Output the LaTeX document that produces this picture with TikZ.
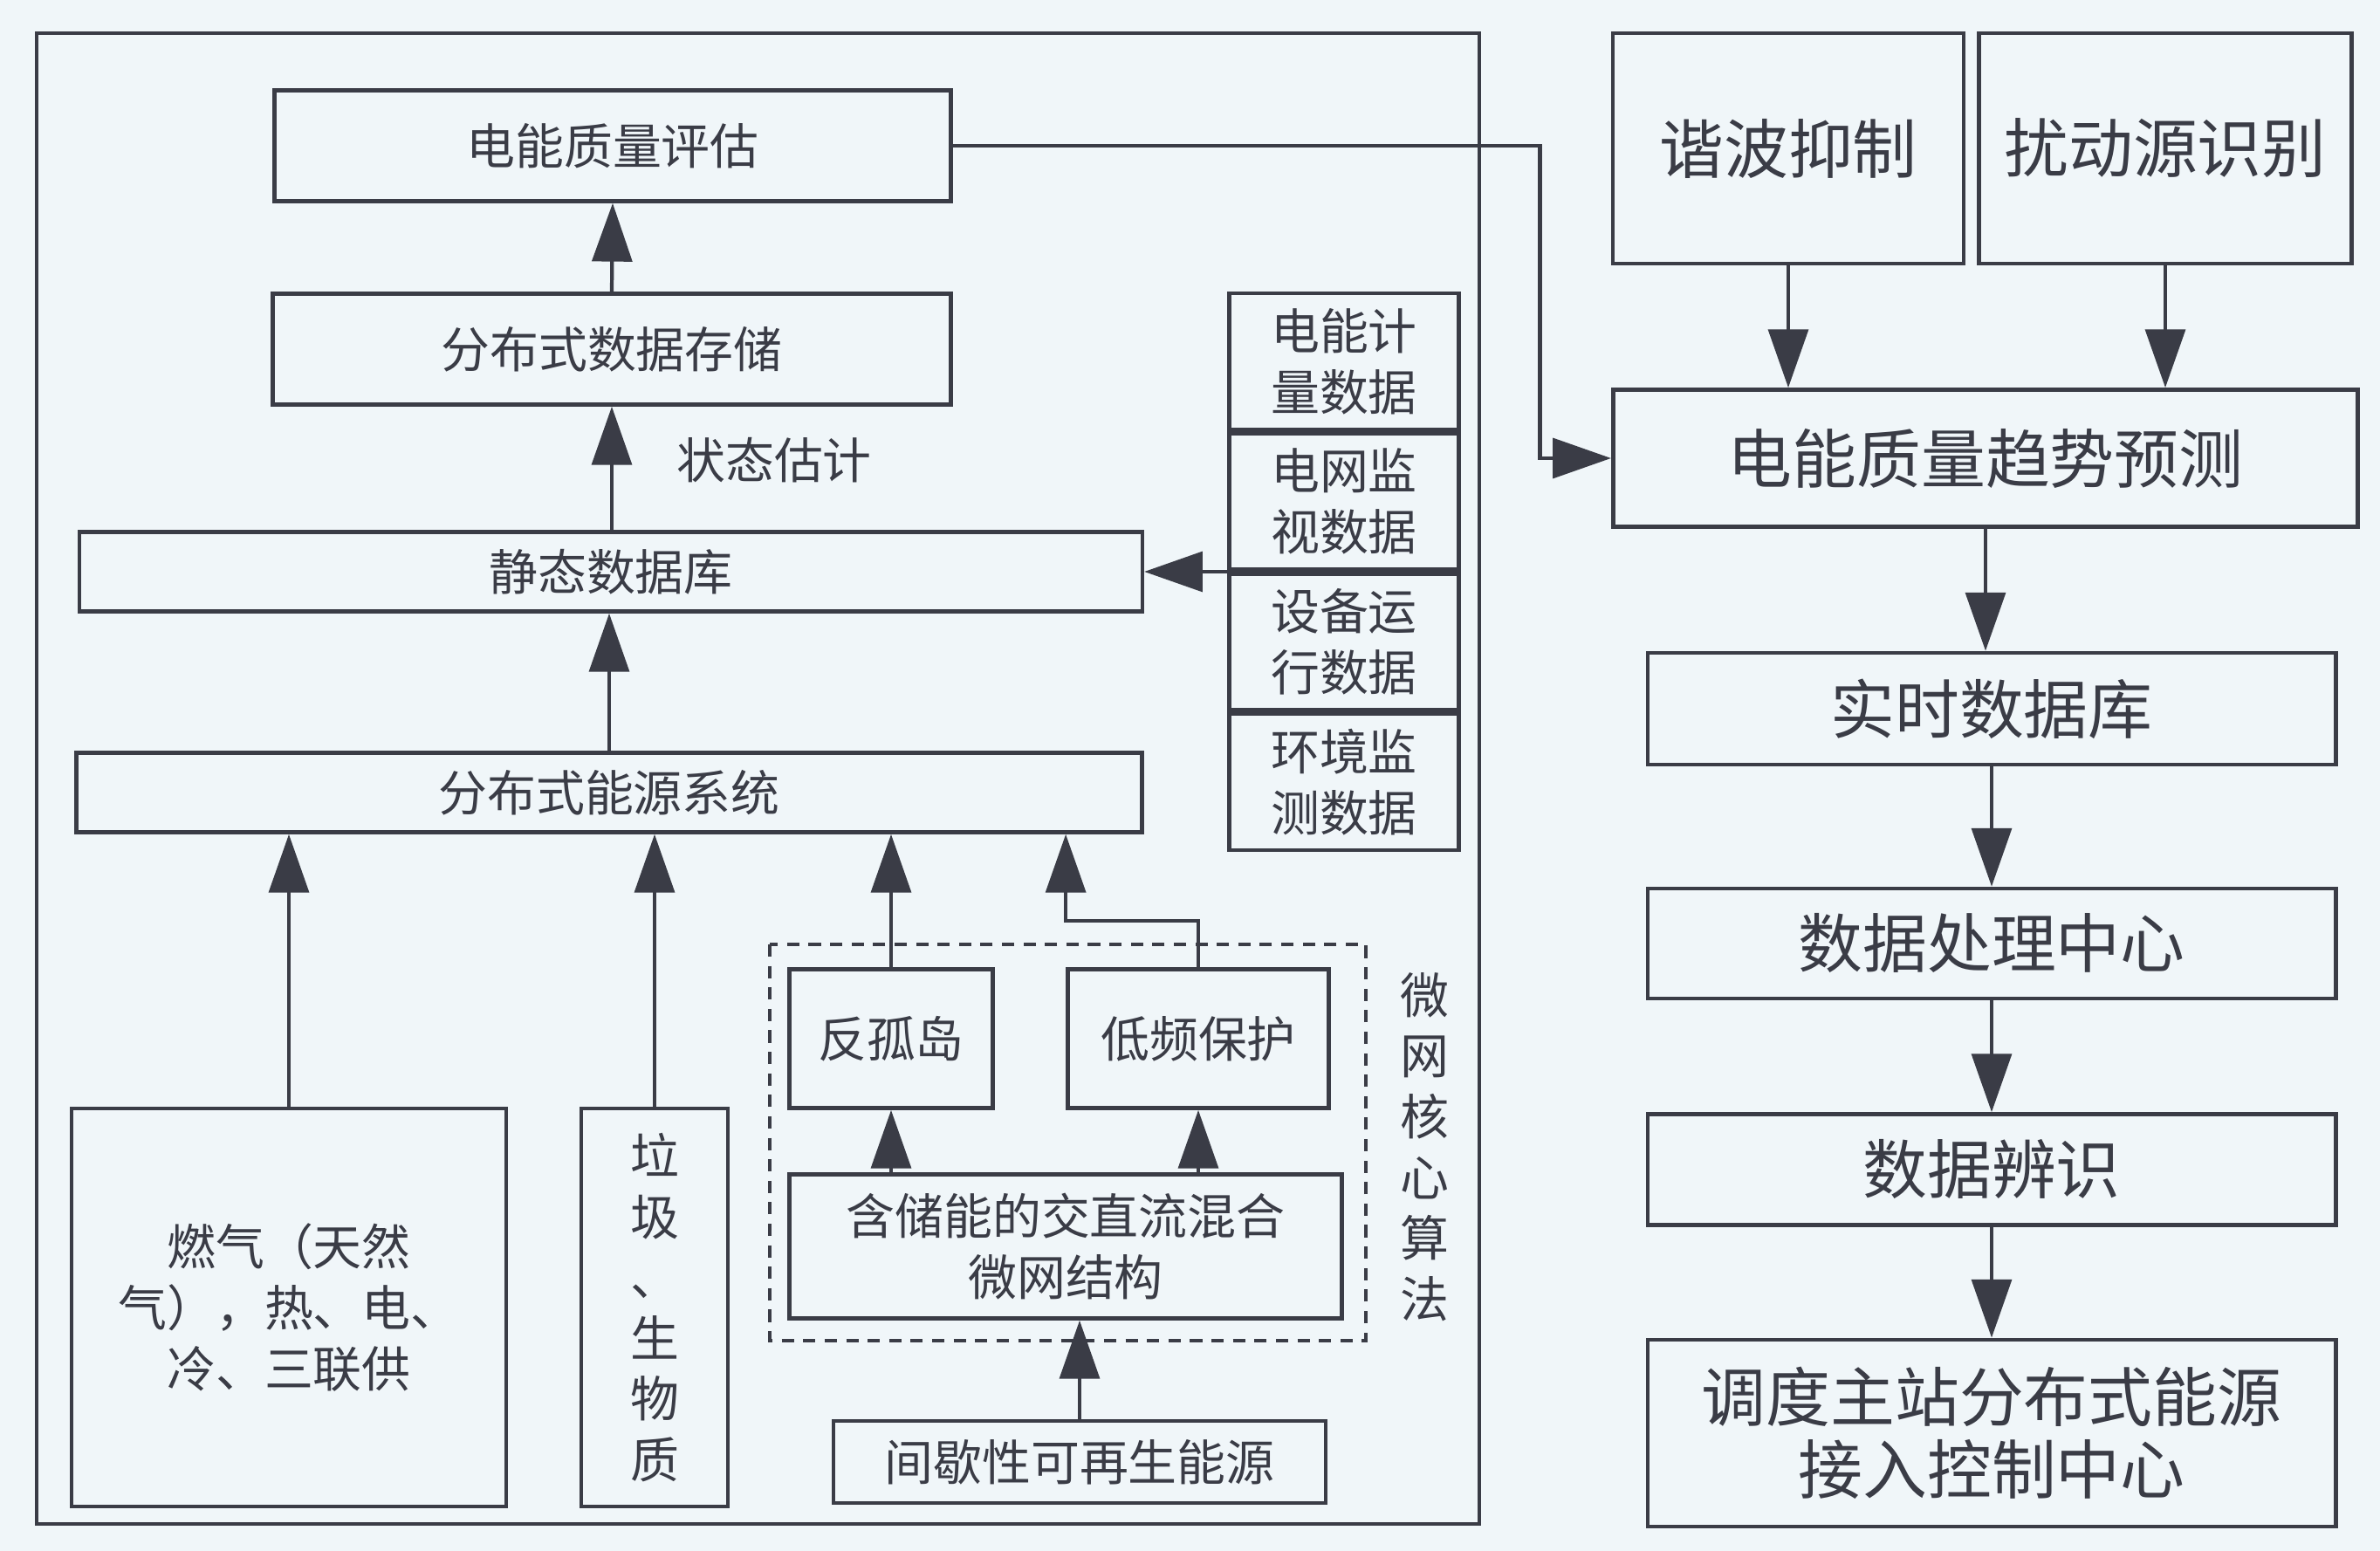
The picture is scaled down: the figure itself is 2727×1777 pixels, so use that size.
\documentclass[tikz,border=0pt]{standalone}
\usepackage{fontspec}
\setmainfont{Noto Sans CJK SC}
\usetikzlibrary{positioning,arrows.meta}

\definecolor{paper}{RGB}{240,246,249}
\definecolor{ink}{RGB}{58,60,70}
\newcommand{\smallcn}{\fontsize{15.9pt}{19.8pt}\selectfont}
\newcommand{\bigcn}{\fontsize{21pt}{23.6pt}\selectfont}

\tikzset{%
    blk/.style={draw=ink, line width=1.3pt, inner sep=0pt, align=center, text=ink},
    sbox/.style={blk, font=\smallcn},
    bbox/.style={blk, font=\bigcn},
    cell/.style={sbox, minimum width=2.63cm, minimum height=1.56cm},
    lbl/.style={text=ink, font=\smallcn, align=center},
    arr/.style={draw=ink, line width=1.2pt, -{Triangle[length=19pt,width=13pt]}},
}

\begin{document}
\begin{tikzpicture}[x=0.01cm, y=-0.01cm]
    \fill[paper] (0,0) rectangle (2727,1777);
    \useasboundingbox (0,0) rectangle (2727,1777);
    \draw[ink, line width=1.3pt] (42,38) rectangle (1695,1746);

    \node[sbox, minimum width=7.74cm, minimum height=1.27cm] (pqeval) at (702,167) {电能质量评估};
    \node[sbox, minimum width=7.76cm, minimum height=1.27cm] (store) at (701,400) {分布式数据存储};
    \node[lbl] (state) at (887,527) {状态估计};
    \node[sbox, minimum width=12.17cm, minimum height=0.91cm] (staticdb) at (700,655) {静态数据库};
    \node[sbox, minimum width=12.2cm, minimum height=0.91cm] (ders) at (698,908) {分布式能源系统};

    \node[cell] (meter) at (1540,414) {电能计\\量数据};
    \node[cell, below=0pt of meter] (grid) {电网监\\视数据};
    \node[cell, below=0pt of grid] (equip) {设备运\\行数据};
    \node[cell, below=0pt of equip] (env) {环境监\\测数据};

    \node[sbox, minimum width=4.98cm, minimum height=4.56cm] (gas) at (331,1498) {燃气（天然\\气），热、电、\\冷、三联供};
    \node[sbox, minimum width=1.68cm, minimum height=4.56cm] (bio) at (750,1498) {垃\\圾\\、\\生\\物\\质};

    \draw[ink, line width=1.2pt, dash pattern=on 4pt off 3pt] (882,1082) rectangle (1565,1536);
    \node[sbox, minimum width=2.33cm, minimum height=1.59cm] (island) at (1021,1190) {反孤岛};
    \node[sbox, minimum width=2.99cm, minimum height=1.59cm] (lowfreq) at (1373,1190) {低频保护};
    \node[sbox, minimum width=6.33cm, minimum height=1.65cm] (hybrid) at (1221,1428) {含储能的交直流混合\\微网结构};
    \node[sbox, minimum width=5.64cm, minimum height=0.94cm] (renew) at (1237,1675) {间歇性可再生能源};
    \node[lbl] (algo) at (1632,1314) {微\\网\\核\\心\\算\\法};

    \node[bbox, minimum width=4.02cm, minimum height=2.64cm] (harm) at (2049,170) {谐波抑制};
    \node[bbox, minimum width=4.27cm, minimum height=2.64cm] (dist) at (2481,170) {扰动源识别};
    \node[bbox, minimum width=8.53cm, minimum height=1.57cm] (trend) at (2275,525) {电能质量趋势预测};
    \node[bbox, minimum width=7.88cm, minimum height=1.28cm] (rtdb) at (2282,812) {实时数据库};
    \node[bbox, minimum width=7.88cm, minimum height=1.26cm] (proc) at (2282,1081) {数据处理中心};
    \node[bbox, minimum width=7.88cm, minimum height=1.27cm] (ident) at (2282,1340) {数据辨识};
    \node[bbox, minimum width=7.88cm, minimum height=2.14cm] (ctrl) at (2282,1642) {调度主站分布式能源\\接入控制中心};

    \draw[arr] (store.north) -- (pqeval.south);
    \draw[arr] (store.south |- staticdb.north) -- (store.south);
    \draw[arr] (ders.north) -- (ders.north |- staticdb.south);
    \draw[arr] (grid.south west) -- (staticdb.east |- grid.south west);
    \draw[arr] (gas.north) -- (gas.north |- ders.south);
    \draw[arr] (bio.north) -- (bio.north |- ders.south);
    \draw[arr] (island.north) -- (island.north |- ders.south);
    \draw[arr] (lowfreq.north) -- ++(0,-53) -| (lowfreq.west |- ders.south);
    \draw[arr] (island.south |- hybrid.north) -- (island.south);
    \draw[arr] (lowfreq.south |- hybrid.north) -- (lowfreq.south);
    \draw[arr] (renew.north) -- (renew.north |- hybrid.south);

    \draw[arr] (pqeval.east) -- ++(673,0) |- (trend.west);
    \draw[arr] (harm.south) -- (harm.south |- trend.north);
    \draw[arr] (dist.south) -- (dist.south |- trend.north);
    \foreach \a/\b in {trend/rtdb, rtdb/proc, proc/ident, ident/ctrl}
        \draw[arr] (\a.south) -- (\a.south |- \b.north);
\end{tikzpicture}
\end{document}
